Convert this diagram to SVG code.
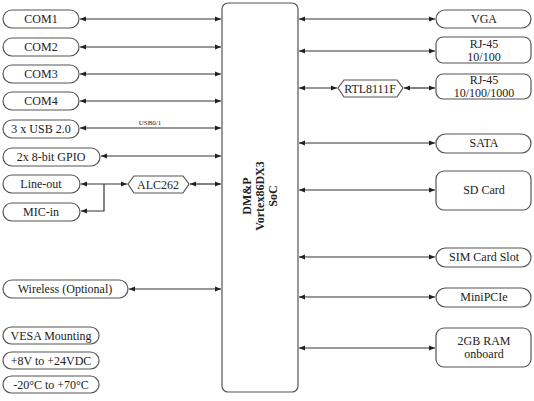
<svg xmlns="http://www.w3.org/2000/svg" width="534" height="401" viewBox="0 0 534 401" font-family="Liberation Serif, Times New Roman, serif">
<defs>
<marker id="ah" viewBox="0 0 10 10" refX="10" refY="5" markerWidth="6" markerHeight="6" markerUnits="userSpaceOnUse" orient="auto-start-reverse">
<path d="M0,1 L10,5 L0,9 z" fill="#222"/>
</marker>
<style>
.n{fill:#fff;stroke:#555;stroke-width:1.2}
.t{font-family:'Liberation Serif',serif;font-size:12px;fill:#222;text-anchor:middle;dominant-baseline:central}
.c{fill:none;stroke:#333;stroke-width:1.2}
.b{marker-start:url(#ah);marker-end:url(#ah)}
.e{marker-end:url(#ah)}
</style>
</defs>
<rect width="534" height="401" fill="#fff"/>
<g id="connectors">
<path class="c b" d="M80,19 H221"/>
<path class="c b" d="M80,47 H221"/>
<path class="c b" d="M80,74 H221"/>
<path class="c b" d="M80,101 H221"/>
<path class="c b" d="M80,128 H221"/>
<text class="t" x="150" y="123" style="font-size:7px">USB0/1</text>
<path class="c b" d="M101,156 H221"/>
<path class="c b" d="M81,184 H127"/>
<path class="c e" d="M104,184 V211 H81"/>
<path class="c b" d="M190,184 H221"/>
<path class="c b" d="M129,289 H221"/>
<path class="c b" d="M299,19 H435"/>
<path class="c b" d="M299,51 H435"/>
<path class="c b" d="M299,88 H337"/>
<path class="c b" d="M404,88 H435"/>
<path class="c b" d="M299,143 H435"/>
<path class="c b" d="M299,190 H435"/>
<path class="c b" d="M299,257 H435"/>
<path class="c b" d="M299,297 H435"/>
<path class="c b" d="M299,348 H435"/>
</g>
<g id="soc"><rect class="n" x="222" y="3" width="76" height="389" rx="6"/>
<text class="t" transform="translate(260,196) rotate(-90)" style="font-weight:bold"><tspan x="0" y="-13">DM&amp;P</tspan><tspan x="0" y="0">Vortex86DX3</tspan><tspan x="0" y="13">SoC</tspan></text></g>
<g id="com1"><rect class="n" x="3" y="10" width="76" height="18" rx="9"/><text class="t" x="41" y="19">COM1</text></g>
<g id="com2"><rect class="n" x="3" y="38" width="76" height="18" rx="9"/><text class="t" x="41" y="47">COM2</text></g>
<g id="com3"><rect class="n" x="3" y="65" width="76" height="18" rx="9"/><text class="t" x="41" y="74">COM3</text></g>
<g id="com4"><rect class="n" x="3" y="92" width="76" height="18" rx="9"/><text class="t" x="41" y="101">COM4</text></g>
<g id="usb"><rect class="n" x="3" y="120" width="76" height="18" rx="9"/><text class="t" x="41" y="129">3 x USB 2.0</text></g>
<g id="gpio"><rect class="n" x="3" y="148" width="97" height="18" rx="9"/><text class="t" x="51" y="157">2x 8-bit GPIO</text></g>
<g id="lineout"><rect class="n" x="3" y="175" width="77" height="18" rx="9"/><text class="t" x="41" y="184">Line-out</text></g>
<g id="micin"><rect class="n" x="3" y="203" width="77" height="18" rx="9"/><text class="t" x="41" y="212">MIC-in</text></g>
<g id="alc262"><polygon class="n" points="134,176 183,176 189,184 183,193 134,193 128,184"/><text class="t" x="158" y="185">ALC262</text></g>
<g id="wireless"><rect class="n" x="3" y="280" width="125" height="18" rx="9"/><text class="t" x="65" y="289">Wireless (Optional)</text></g>
<g id="vesa"><rect class="n" x="3" y="327" width="96" height="17" rx="8.5"/><text class="t" x="51" y="336">VESA Mounting</text></g>
<g id="power"><rect class="n" x="3" y="352" width="96" height="17" rx="8.5"/><text class="t" x="51" y="361">+8V to +24VDC</text></g>
<g id="temp"><rect class="n" x="3" y="376" width="96" height="17" rx="8.5"/><text class="t" x="51" y="385">-20°C to +70°C</text></g>
<g id="vga"><rect class="n" x="436" y="10" width="95" height="18" rx="9"/><text class="t" x="484" y="19">VGA</text></g>
<g id="rj45a"><rect class="n" x="436" y="37" width="95" height="26" rx="7"/><text class="t" x="484" y="44">RJ-45</text><text class="t" x="484" y="57">10/100</text></g>
<g id="rj45b"><rect class="n" x="436" y="74" width="95" height="25" rx="7"/><text class="t" x="484" y="80">RJ-45</text><text class="t" x="484" y="93">10/100/1000</text></g>
<g id="rtl"><polygon class="n" points="344,80 397,80 403,88 397,97 344,97 338,88"/><text class="t" x="370" y="89">RTL8111F</text></g>
<g id="sata"><rect class="n" x="436" y="134" width="95" height="19" rx="9.5"/><text class="t" x="484" y="143">SATA</text></g>
<g id="sd"><rect class="n" x="436" y="171" width="95" height="39" rx="8"/><text class="t" x="484" y="190">SD Card</text></g>
<g id="sim"><rect class="n" x="436" y="248" width="95" height="19" rx="9.5"/><text class="t" x="484" y="257">SIM Card Slot</text></g>
<g id="minipcie"><rect class="n" x="436" y="288" width="95" height="19" rx="9.5"/><text class="t" x="484" y="297">MiniPCIe</text></g>
<g id="ram"><rect class="n" x="436" y="328" width="95" height="39" rx="8"/><text class="t" x="484" y="341">2GB RAM</text><text class="t" x="484" y="354">onboard</text></g>
</svg>
